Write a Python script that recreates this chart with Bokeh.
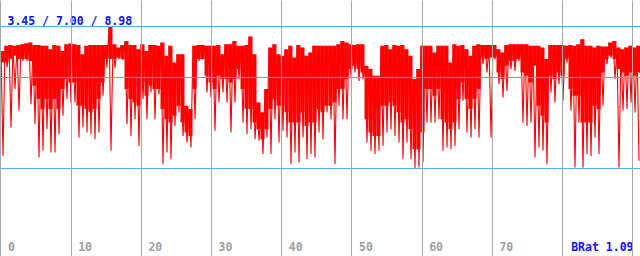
import numpy as np
from bokeh.plotting import figure
from bokeh.models import FixedTicker, Label, ColumnDataSource
from bokeh.core.properties import value
from bokeh.embed import file_html
from bokeh.resources import INLINE

# ---- data (one entry per ~4 px block) ----
# highest value in each block
hi = [8.03, 8.23, 8.26, 8.23, 8.26, 8.29, 8.33, 8.36, 8.26, 8.26,
      8.23, 8.23, 8.10, 8.26, 8.23, 8.03, 8.29, 8.32, 8.29, 8.26,
      7.90, 8.23, 8.26, 8.26, 8.26, 8.26, 8.26, 8.98, 8.29, 8.16,
      8.26, 8.42, 8.26, 8.26, 8.10, 8.29, 8.03, 8.26, 8.26, 8.23,
      8.36, 7.84, 8.23, 7.58, 7.90, 7.90, 5.89, 5.76, 8.23, 8.26,
      8.26, 8.23, 8.23, 8.23, 8.26, 7.90, 8.29, 8.29, 8.42, 8.23,
      8.23, 8.26, 8.59, 7.90, 6.02, 5.63, 6.54, 8.16, 8.29, 7.90,
      7.84, 8.10, 8.23, 7.77, 8.26, 8.16, 7.84, 7.97, 8.23, 8.23,
      8.23, 8.23, 8.23, 8.23, 8.29, 8.42, 8.36, 8.29, 8.26, 8.29,
      8.29, 7.45, 7.32, 7.06, 7.06, 8.23, 8.26, 8.10, 8.26, 8.23,
      8.26, 8.10, 7.84, 6.93, 7.32, 8.23, 8.23, 8.23, 7.97, 8.23,
      8.23, 8.23, 7.58, 8.29, 8.23, 8.26, 8.10, 7.84, 8.23, 8.29,
      8.26, 8.26, 8.26, 8.26, 8.10, 7.97, 8.26, 8.29, 8.29, 8.29,
      8.29, 8.29, 8.23, 8.23, 8.23, 8.16, 7.71, 8.26, 8.26, 8.26,
      8.26, 8.23, 8.26, 8.23, 8.29, 8.49, 8.23, 8.23, 8.16, 8.23,
      8.20, 8.20, 8.36, 8.42, 8.16, 8.10, 8.16, 8.23, 8.16, 8.23]
# lower edge of the dense part of each block
mid = [7.58, 7.58, 7.71, 7.84, 7.71, 7.71, 7.71, 7.64, 6.67, 6.15,
       5.76, 6.15, 5.76, 6.15, 5.76, 6.54, 6.93, 6.80, 6.80, 5.89,
       5.89, 5.76, 5.63, 5.76, 6.15, 6.80, 7.71, 7.71, 7.71, 7.77,
       7.71, 6.54, 6.15, 6.02, 5.89, 6.80, 6.28, 6.67, 6.54, 6.54,
       5.76, 5.36, 5.23, 5.50, 5.89, 5.23, 4.84, 4.71, 6.54, 7.71,
       7.71, 7.06, 6.80, 6.54, 7.06, 6.93, 6.93, 6.80, 6.93, 7.32,
       6.54, 5.76, 5.76, 5.23, 4.97, 4.58, 4.97, 5.76, 6.15, 5.89,
       5.89, 5.63, 5.23, 5.23, 5.23, 5.63, 5.10, 5.23, 5.23, 5.76,
       5.63, 5.89, 5.89, 6.02, 6.54, 6.54, 6.93, 7.32, 7.45, 7.32,
       7.19, 5.36, 4.84, 4.71, 4.71, 5.89, 5.89, 6.02, 5.89, 5.63,
       5.23, 5.36, 4.97, 4.19, 4.19, 4.84, 6.54, 6.54, 6.28, 6.54,
       5.36, 5.23, 4.97, 5.23, 6.15, 6.80, 6.15, 5.76, 6.15, 6.54,
       7.77, 7.71, 7.77, 7.77, 7.19, 6.93, 7.45, 7.64, 7.64, 7.71,
       7.19, 7.06, 6.80, 7.45, 5.89, 5.50, 5.23, 7.06, 6.93, 7.19,
       7.06, 7.71, 6.54, 6.28, 6.28, 5.23, 5.23, 5.23, 5.89, 5.76,
       7.19, 7.71, 7.84, 7.71, 7.32, 7.19, 7.06, 7.19, 7.06, 7.19]
# deepest dip in each block
lo = [3.93, 7.38, 5.04, 6.54, 5.69, 7.64, 7.64, 5.95, 5.17, 3.87,
      4.13, 4.97, 4.06, 4.06, 4.78, 5.50, 6.15, 6.02, 6.02, 4.65,
      5.04, 4.84, 4.78, 4.58, 4.84, 6.28, 7.38, 4.13, 7.38, 7.71,
      7.68, 5.17, 4.71, 5.36, 4.32, 6.15, 5.36, 6.41, 5.36, 6.34,
      3.61, 4.06, 3.80, 5.10, 5.63, 4.71, 4.45, 4.26, 5.36, 7.64,
      7.71, 6.41, 6.21, 4.91, 6.02, 6.41, 6.02, 4.84, 6.02, 6.93,
      5.23, 4.78, 4.97, 4.58, 4.52, 4.00, 4.65, 4.00, 5.36, 4.45,
      4.91, 4.65, 3.61, 4.06, 3.67, 4.65, 3.80, 4.00, 3.87, 4.84,
      4.58, 5.63, 5.36, 3.61, 5.89, 5.36, 5.36, 6.99, 7.19, 6.86,
      6.93, 4.45, 4.13, 4.00, 4.13, 4.32, 4.84, 4.97, 4.71, 4.45,
      3.80, 4.45, 3.80, 3.45, 3.48, 3.67, 5.23, 5.23, 5.23, 5.36,
      4.13, 4.26, 4.19, 4.32, 4.97, 6.08, 4.84, 4.65, 4.97, 4.65,
      7.51, 7.19, 4.65, 7.71, 6.73, 6.21, 6.47, 7.32, 7.25, 7.64,
      5.23, 5.10, 5.23, 3.87, 4.26, 4.13, 3.61, 6.41, 6.02, 6.73,
      6.08, 7.58, 5.69, 3.48, 5.23, 3.48, 4.00, 3.93, 4.65, 4.00,
      5.89, 7.51, 7.77, 6.93, 3.48, 5.69, 5.76, 6.02, 5.63, 3.74]

stat_lines = [3.45, 7.00, 8.98]          # min / avg / max
header = "3.45 / 7.00 / 8.98"
footer = "BRat 1.09"
tick_vals = [0, 10, 20, 30, 40, 50, 60, 70, 80, 90]
tick_labels = ["0", "10", "20", "30", "40", "50", "60", "70"]

W, H = 640, 256
X0, X_END = -0.07, 91.1
PXU = W / (X_END - X0)           # screen pixels per x unit
ncol = len(hi)
colw = W / ncol                  # pixel width of one block
xc = [(k + 0.5) * colw / PXU + X0 for k in range(ncol)]

# dense trace: each block goes top -> dip -> next block
ys, xs = [], []
for k in range(ncol):
    xs.extend([(k * colw + 0.5) / PXU + X0, (k * colw + 2.5) / PXU + X0])
    ys.extend([hi[k], lo[k]])

p = figure(width=W, height=H, output_backend="svg", toolbar_location=None,
           x_range=(X0, X_END), y_range=(0, 10), min_border=0,
           background_fill_color="white", border_fill_color="white")
p.outline_line_color = None
p.xaxis.visible = False
p.yaxis.visible = False

p.vbar(x=xc, top=hi, bottom=mid, width=colw / PXU,
       fill_color="#ff0000", line_color=None)
p.line(xs, ys, line_color="#ff0000", line_width=1.1)

p.xgrid.ticker = FixedTicker(ticks=tick_vals)
p.xgrid.grid_line_color = "#a8a8a8"
p.xgrid.grid_line_width = 1
p.xgrid.level = "overlay"
p.ygrid.ticker = FixedTicker(ticks=stat_lines)
p.ygrid.grid_line_color = "#5aa8f8"
p.ygrid.grid_line_width = 1
p.ygrid.level = "overlay"

src = ColumnDataSource(dict(x=tick_vals[:len(tick_labels)], y=[0] * len(tick_labels), t=tick_labels))
p.text(x="x", y="y", text="t", source=src, x_offset=7, y_offset=-10,
       text_font=value("DejaVu Sans Mono"), text_font_style="bold",
       text_font_size="11.5px", text_color="#a0a0a0", text_baseline="alphabetic")

p.add_layout(Label(x=7, y=236, x_units="screen", y_units="screen", text=header,
                   text_font="DejaVu Sans Mono", text_font_style="bold",
                   text_font_size="11.5px", text_color="#1010ff", text_baseline="alphabetic"))
p.add_layout(Label(x=633, y=10, x_units="screen", y_units="screen", text=footer,
                   text_font="DejaVu Sans Mono", text_font_style="bold",
                   text_font_size="11.5px", text_color="#1010ff", text_align="right",
                   text_baseline="alphabetic"))

open("out.html", "w").write(file_html(p, INLINE))
